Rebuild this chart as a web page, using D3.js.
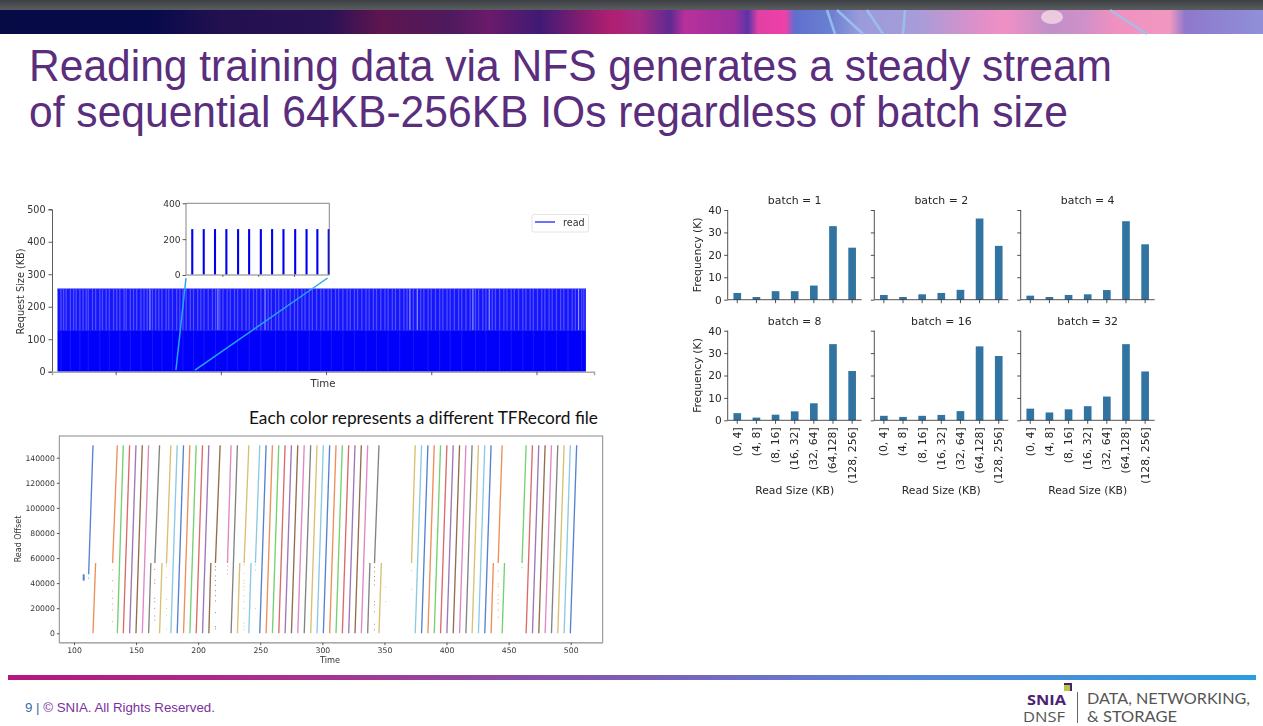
<!DOCTYPE html>
<html><head><meta charset="utf-8">
<script src="https://cdnjs.cloudflare.com/ajax/libs/d3/7.8.5/d3.min.js"></script>
<style>
html,body{margin:0;padding:0;background:#fff;overflow:hidden}
svg{display:block}
text{font-family:"DejaVu Sans",sans-serif}
.soft{filter:blur(.35px)}
</style></head><body><svg id="s" width="1263" height="726"></svg>
<script>
// ---- text
const titleLines = ["Reading training data via NFS generates a steady stream","of sequential 64KB-256KB IOs regardless of batch size"];
const caption = "Each color represents a different TFRecord file";
const footerNote = ["9 | ","© SNIA. All Rights Reserved."];

// ---- request-size timeline
const requestTicks = [0,100,200,300,400,500];
const timeTicks = [100,200,300,400,500];
const traceStart = 44.7, traceEnd = 547;
const levelSizes = [128,256];
const faintGaps = [48,50.5,53,57,60,62.5,66,69,72,74,78,81,85,87.5,91,94,98,101,104,108,110,114,117,120,124,127,130,135,138,141,144,148,150.5,154,158,161,164,167,171,174,178,181,184,188,192,195,199,202,206,209,213,216,220,224,227,231,234,238,245,248,252,255,259,262,266,270,273,277,280,284,287,291,295,298,302,305,309,312,316,320,323,327,330,334,338,341,345,348,352,356,359,363,366,370,374,377,383,390,393,397,400,404,408,411,415,418,422,426,429,433,437,442,445,449,452,458,461,465,469,472,476,479,483,487,490,494,497,501,505,508,512,515,519,523,526,530,534,537,543,545];
const brightGaps = [132.6,197.2,242,379.7,386.7,439.6,455.1,540.1];
const zoomWindow = [157.3,175.4];

// ---- zoomed inset
const insetTicks = [0,200,400];
const insetMarks = [3.2,6.35,9.5];
const insetSpikes = [0.55,1.56,2.55,3.55,4.58,5.55,6.58,7.57,8.57,9.6,10.6,11.55,12.55];
const insetSpikeSize = 256;
const seriesName = "read";

// ---- read offset by file: offset 0 at fileStart; paused files stop at fileBreak and continue from fileResume
const offsetTicks = [0,20000,40000,60000,80000,100000,120000,140000];
const scatterTicks = [100,150,200,250,300,350,400,450,500];
const fileEnd   = [115.3,134.9,139.7,144.8,149.9,155,160.1,168.9,178,183.1,188.2,193.3,198.4,203.5,208.6,217.7,226.5,231.6,240.8,249.6,254.7,259.8,264.9,270,275.1,280.2,285.4,290.6,295.7,300.8,305.9,311,316.1,321.2,326.3,331.4,336.5,345.6,374.8,379.9,385,390.1,395.2,400.3,405.4,410.5,415.6,420.6,425.7,430.8,435.9,444.8,464.1,469.2,474.3,479.4,484.5,489.6,494.7,499.7,504.8];
const fileStart = [null,115.3,134.9,139.7,144.8,149.9,155,160.1,168.9,178,183.1,188.2,193.3,198.4,203.5,208.6,null,226.5,231.6,240.8,249.6,254.7,259.8,264.9,270,275.1,280.2,285.4,290.6,295.7,300.8,305.9,311,316.1,321.2,326.3,331.4,336.5,345.6,374.8,379.9,385,390.1,395.2,400.3,405.4,410.5,415.6,420.6,425.7,430.8,435.9,444.8,464.1,469.2,474.3,479.4,484.5,489.6,494.7,499.7];
const pausedFiles  = [1,7,8,15,18,19,37,38,51,52];
const pausedBreak  = [117.4,161.9,170.9,210.2,233.5,242.6,338.3,347.5,437.7,446.7];
const pausedResume = [131.1,165.1,174.5,213.9,237,246.1,342,371.8,441.6,460.8];
const pauseOffset = 56000, fileSize = 150000;
const firstFile = {resume:111.8, offset:47000, blobTime:107.8, blobLow:42000, blobHigh:47000};
const pinkFile = {index:16, resume:223.6};
const dotFile   = [1,1,1,1,1,1,1, 7,7,7,7,7,7,7,7, 8,8,8,8,8,8,8, 15,15,15,15,15,15,15,15,15,15,15, 16,16,16, 18,18,18,18,18,18,18,18,18,18,18,18, 19,19,19, 37,37,37,37,37,37,37,37,37,37, 38,38, 38,38, 51,51,51,51,51,51,51,51, 52, 0];
const dotTime   = [131.1,131.1,131.1,131.1,131.1,131.1,131.1, 165,165,165,165,165,165,165,165, 174.5,174.5,174.5,174.5,174.5,174.5,174.5, 213.9,213.9,213.9,213.9,213.9,213.9,213.9,213.9,213.9,213.9,213.9, 223.6,223.6,223.6, 237,237,237,237,237,237,237,237,237,237,237,237, 246.1,246.1,246.1, 342,342,342,342,342,342,342,342,342,342, 351,351, 371.8,371.8, 441.6,441.6,441.6,441.6,441.6,441.6,441.6,441.6, 460.8, 111.8];
const dotOffset = [50500,42000,33700,27900,23400,18600,9300, 51000,42500,39900,27900,25200,19900,13800,10600, 55300,53100,44600,27100,19900,14600,3200, 53100,50500,45700,42000,38300,34000,30000,25800,16500,5300,3500, 53700,50500,47300, 54500,47800,42000,39900,37200,34500,30000,25200,19900,8000,5300,2700, 54500,50500,19900, 52600,49100,45200,42000,38500,25200,22600,17300,7200,2700, 36700,25200, 50000,35000, 49700,39300,37200,30500,27100,23900,18600,12800, 52300, 44000];
const fileColors = ["#4878d0","#ee854a","#6acc64","#d65f5f","#956cb4","#8c613c","#dc7ec0","#797979","#d5bb67","#82c6e2"];

// ---- read size histograms (K)
const sizeBins = ["(0, 4]","(4, 8]","(8, 16]","(16, 32]","(32, 64]","(64,128]","(128, 256]"];
const batchNames = ["batch = 1","batch = 2","batch = 4","batch = 8","batch = 16","batch = 32"];
const batch1  = [3,1.2,3.8,3.8,6.3,32.8,23.2];
const batch2  = [2.1,1.2,2.4,3,4.4,36.2,24];
const batch4  = [1.8,1.2,2.1,2.4,4.3,35,24.7];
const batch8  = [3.2,1.2,2.5,4,7.6,34,22];
const batch16 = [2,1.5,2,2.4,4.1,33,28.7];
const batch32 = [5.2,3.5,4.9,6.3,10.6,34,21.8];
const freqTicks = [0,10,20,30,40];

const svg = d3.select("#s");
const defs = svg.append("defs");
function grad(id, stops){
  const g = defs.append("linearGradient").attr("id",id).attr("gradientUnits","userSpaceOnUse").attr("x1",0).attr("x2",1263).attr("y1",0).attr("y2",0);
  stops.forEach(s=>g.append("stop").attr("offset",s[0]/1263).attr("stop-color",s[1]));
}
grad("ban",[[0,"#060a45"],[150,"#070a4a"],[220,"#22104f"],[330,"#2a1255"],[380,"#5e154f"],[450,"#4e1a5e"],[490,"#6a1a6a"],[540,"#3f1a75"],[610,"#b01f70"],[640,"#a52a85"],[670,"#5f2a90"],[685,"#b8309c"],[735,"#9c2f9e"],[748,"#5a35a8"],[758,"#e040a5"],[785,"#f03fa8"],[795,"#5f6fd0"],[830,"#6a80d0"],[860,"#9a9bdc"],[920,"#a89cd8"],[980,"#e08fc8"],[1005,"#f090c5"],[1050,"#c090c8"],[1085,"#d090c8"],[1115,"#f090c0"],[1170,"#f098c0"],[1185,"#8f78cc"],[1263,"#8f90d8"]]);
grad("foot",[[8,"#b5177f"],[300,"#a8308f"],[620,"#7f5bb5"],[900,"#5a86d8"],[1256,"#2d9ce0"]]);
const dk = defs.append("linearGradient").attr("id","chromeTop").attr("x1",0).attr("x2",0).attr("y1",0).attr("y2",1);
dk.append("stop").attr("offset",0).attr("stop-color","#3d4143");
dk.append("stop").attr("offset",1).attr("stop-color","#595d5f");

// ---- slide chrome
svg.append("rect").attr("width",1263).attr("height",10).attr("fill","url(#chromeTop)");
svg.append("rect").attr("y",10).attr("width",1263).attr("height",24).attr("fill","url(#ban)");
[[827,10,835,34],[837,10,863,34],[867,10,883,34],[905,10,903,34],[1110,10,1147,34]].forEach(l=>
  svg.append("line").attr("x1",l[0]).attr("y1",l[1]).attr("x2",l[2]).attr("y2",l[3]).attr("stroke","#9cc4f0").attr("stroke-width",2.5).attr("opacity",.85));
svg.append("ellipse").attr("cx",1052).attr("cy",17).attr("rx",11).attr("ry",7).attr("fill","#f4d4e4").attr("opacity",.85);

titleLines.forEach((t,i)=>svg.append("text").text(t).attr("x",29).attr("y",[81,127][i])
  .attr("textLength",[1083,1039][i]).attr("lengthAdjust","spacingAndGlyphs")
  .style("font-family","'Liberation Sans'").style("font-size","43.5px").attr("fill","#5a2d7d"));

svg.append("text").text(caption).attr("x",249).attr("y",424).attr("textLength",349).attr("lengthAdjust","spacingAndGlyphs")
  .style("font-family","Lato").style("font-size","17px").attr("fill","#111");

svg.append("rect").attr("x",8).attr("y",675).attr("width",1248).attr("height",5).attr("fill","url(#foot)");
const ft = svg.append("text").attr("x",25).attr("y",712).style("font-family","'Liberation Sans'").style("font-size","13.3px");
ft.append("tspan").text(footerNote[0]).attr("fill","#3a6ea5");
ft.append("tspan").text(footerNote[1]).attr("fill","#7a2fa0");

const lg = svg.append("g");
lg.append("text").text("SNIA").attr("x",1027).attr("y",705).attr("textLength",39).attr("lengthAdjust","spacingAndGlyphs").style("font-family","'Open Sans'").style("font-weight",700).style("font-size","14.5px").attr("fill","#4b1f73");
lg.append("text").text("DNSF").attr("x",1023).attr("y",721.5).attr("textLength",42).attr("lengthAdjust","spacingAndGlyphs").style("font-family","'Open Sans'").style("font-size","14.5px").attr("fill","#555");
lg.append("text").text("DATA, NETWORKING,").attr("x",1087).attr("y",704).attr("textLength",163).attr("lengthAdjust","spacingAndGlyphs").style("font-family","Lato").style("font-size","16px").attr("fill","#555");
lg.append("text").text("& STORAGE").attr("x",1087).attr("y",722).attr("textLength",90).attr("lengthAdjust","spacingAndGlyphs").style("font-family","Lato").style("font-size","16px").attr("fill","#555");
lg.append("line").attr("x1",1077.5).attr("x2",1077.5).attr("y1",692).attr("y2",723).attr("stroke","#666").attr("stroke-width",1);
lg.append("rect").attr("x",1064).attr("y",683).attr("width",8).attr("height",8).attr("fill","#4b1f73");
lg.append("rect").attr("x",1064).attr("y",685).attr("width",6).attr("height",6).attr("fill","#b5c83a");

// ---- helper
const ink = "#333";
function styleAxis(g, fs, col){
  g.selectAll("text").style("font-size",fs+"px").attr("fill",col);
  g.selectAll("line").attr("stroke",col).attr("stroke-width",.8);
}

// ---- timeline
const tl = svg.append("g").attr("class","soft");
const tx = d3.scaleLinear().domain([39.5,554.7]).range([52,594]);
const ty = d3.scaleLinear().domain([0,500]).range([371.7,209.3]);
tl.append("rect").attr("x",tx(traceStart)).attr("width",tx(traceEnd)-tx(traceStart)).attr("y",ty(levelSizes[0])).attr("height",ty(0)-ty(levelSizes[0])).attr("fill","#0000fb");
tl.append("rect").attr("x",tx(traceStart)).attr("width",tx(traceEnd)-tx(traceStart)).attr("y",ty(levelSizes[1])).attr("height",ty(levelSizes[0])-ty(levelSizes[1])).attr("fill","#1616fb");
tl.selectAll(".fa").data(faintGaps).join("line").attr("class","fa").attr("x1",d=>tx(d)).attr("x2",d=>tx(d)).attr("y1",ty(levelSizes[1])).attr("y2",ty(levelSizes[0])).attr("stroke","#4e4eff").attr("stroke-width",1.3);
tl.selectAll(".fb").data(faintGaps.filter((d,i)=>i%3==0)).join("line").attr("class","fb").attr("x1",d=>tx(d)).attr("x2",d=>tx(d)).attr("y1",ty(levelSizes[0])).attr("y2",ty(0)).attr("stroke","#1e1eff").attr("stroke-width",.8);
tl.selectAll(".br").data(brightGaps).join("line").attr("class","br").attr("x1",d=>tx(d)).attr("x2",d=>tx(d)).attr("y1",ty(levelSizes[1])).attr("y2",ty(levelSizes[0])).attr("stroke","#a8a8ff").attr("stroke-width",1);
tl.append("line").attr("x1",tx(traceStart)).attr("x2",tx(traceEnd)).attr("y1",ty(levelSizes[1])).attr("y2",ty(levelSizes[1])).attr("stroke","#9090ff").attr("stroke-width",1);

const ay = tl.append("g").attr("transform","translate(52,0)").call(d3.axisLeft(ty).tickValues(requestTicks).tickSize(3.5).tickPadding(3));
ay.select(".domain").attr("stroke",ink).attr("stroke-width",.8);
styleAxis(ay,9.6,ink);
const ax = tl.append("g").attr("transform","translate(0,371.7)").call(d3.axisBottom(tx).tickValues(timeTicks).tickSize(3.5).tickFormat(""));
ax.select(".domain").attr("stroke","#aaa").attr("stroke-width",1.6);
ax.selectAll("line").attr("stroke",ink).attr("stroke-width",.8);
tl.append("text").text("Time").attr("x",323).attr("y",387).attr("text-anchor","middle").style("font-size","10.2px").attr("fill",ink);
tl.append("text").text("Request Size (KB)").attr("transform","translate(24,291.5) rotate(-90)").attr("text-anchor","middle").style("font-size","9.7px").attr("fill",ink);

// legend
tl.append("rect").attr("x",532).attr("y",214.5).attr("width",56.5).attr("height",17.5).attr("rx",2).attr("fill","#fff").attr("stroke","#ddd").attr("stroke-width",.8);
tl.append("line").attr("x1",535).attr("x2",555).attr("y1",222).attr("y2",222).attr("stroke","#2020ff").attr("stroke-width",1.3);
tl.append("text").text(seriesName).attr("x",563).attr("y",225.5).style("font-size","9.6px").attr("fill",ink);

// inset
const ix = d3.scaleLinear().domain([0,12.6]).range([186,329.3]);
const iy = d3.scaleLinear().domain([0,400]).range([275,203.3]);
const inset = tl.append("g");
inset.append("rect").attr("x",186).attr("y",203.3).attr("width",143.3).attr("height",71.7).attr("fill","#fff");
inset.selectAll(".sp").data(insetSpikes).join("line").attr("class","sp").attr("x1",d=>ix(d)).attr("x2",d=>ix(d)).attr("y1",iy(0)).attr("y2",iy(insetSpikeSize)).attr("stroke","#0000f0").attr("stroke-width",2.1);
inset.append("path").attr("d","M186,275V203.3H329.3V275").attr("fill","none").attr("stroke","#777").attr("stroke-width",.9);
inset.append("line").attr("x1",186).attr("x2",329.3).attr("y1",275).attr("y2",275).attr("stroke","#aaa").attr("stroke-width",1.6);
const iay = inset.append("g").attr("transform","translate(186,0)").call(d3.axisLeft(iy).tickValues(insetTicks).tickSize(3.5).tickPadding(2));
iay.select(".domain").remove(); styleAxis(iay,9.1,ink);
const iax = inset.append("g").attr("transform","translate(0,275)").call(d3.axisBottom(ix).tickValues(insetMarks).tickSize(2).tickFormat(""));
iax.select(".domain").remove(); iax.selectAll("line").attr("stroke",ink).attr("stroke-width",.7);
// zoom connectors
const connectorFoot = ty(5), connectorHead = 278;
[[zoomWindow[0],ix(0)],[zoomWindow[1],ix(12.45)]].forEach(c=>
  tl.append("line").attr("x1",tx(c[0])).attr("y1",connectorFoot).attr("x2",c[1]).attr("y2",connectorHead).attr("stroke","#26a6f0").attr("stroke-width",1.5));

// ---- read offset scatter
const sc = svg.append("g").attr("class","soft");
const sx = d3.scaleLinear().domain([100,500]).range([74,570.7]);
const sy = d3.scaleLinear().domain([0,140000]).range([633.3,457.7]);
const segs = [];
const w = 1.35;
fileEnd.forEach((e,i)=>{
  const c = fileColors[i%10];
  const p = pausedFiles.indexOf(i);
  if(i===0){ segs.push([firstFile.resume,firstFile.offset,e,fileSize,c,w]); segs.push([firstFile.blobTime,firstFile.blobLow,firstFile.blobTime,firstFile.blobHigh,c,2]); return; }
  if(i===pinkFile.index){ segs.push([pinkFile.resume,pauseOffset,e,fileSize,c,w]); return; }
  if(p>=0){ segs.push([fileStart[i],0,pausedBreak[p],pauseOffset,c,w]); segs.push([pausedResume[p],pauseOffset,e,fileSize,c,w]); }
  else segs.push([fileStart[i],0,e,fileSize,c,w]);
});
sc.selectAll(".seg").data(segs).join("line").attr("class","seg").attr("x1",d=>sx(d[0])).attr("y1",d=>sy(d[1])).attr("x2",d=>sx(d[2])).attr("y2",d=>sy(d[3])).attr("stroke",d=>d[4]).attr("stroke-width",d=>d[5]).attr("opacity",.92);
sc.selectAll(".dot").data(dotTime).join("rect").attr("class","dot").attr("x",d=>sx(d)-.5).attr("y",(d,i)=>sy(dotOffset[i])-.5).attr("width",1).attr("height",1).attr("fill",(d,i)=>fileColors[dotFile[i]%10]).attr("opacity",.8);
sc.append("rect").attr("x",59.3).attr("y",436).attr("width",543.4).attr("height",206.7).attr("fill","none").attr("stroke","#8a8a8a").attr("stroke-width",1);
sc.append("line").attr("x1",59.3).attr("x2",602.7).attr("y1",642.7).attr("y2",642.7).attr("stroke","#aaa").attr("stroke-width",1.5);
const say = sc.append("g").attr("transform","translate(59.3,0)").call(d3.axisLeft(sy).tickValues(offsetTicks).tickSize(2.5).tickPadding(2).tickFormat(d3.format("d")));
say.select(".domain").remove(); styleAxis(say,7.7,ink);
const sax = sc.append("g").attr("transform","translate(0,642.7)").call(d3.axisBottom(sx).tickValues(scatterTicks).tickSize(2.5).tickPadding(2));
sax.select(".domain").remove(); styleAxis(sax,7.7,ink);
sc.append("text").text("Time").attr("x",330).attr("y",662.5).attr("text-anchor","middle").style("font-size","8.2px").attr("fill",ink);
sc.append("text").text("Read Offset").attr("transform","translate(21,539) rotate(-90)").attr("text-anchor","middle").style("font-size","8px").attr("fill",ink);

// ---- histograms
const batchSeries = [batch1,batch2,batch4,batch8,batch16,batch32];
const dark = "#262626";
batchSeries.forEach((vals,i)=>{
  const col = i%3, row = Math.floor(i/3);
  const x0 = [727.7,874.3,1020.7][col];
  const yTop = [210,330.7][row], yBase = [299.7,420.3][row];
  const g = svg.append("g").attr("class","soft");
  const bx = d3.scaleBand().domain(sizeBins).range([x0,x0+134]).paddingInner(.6).paddingOuter(.3);
  const by = d3.scaleLinear().domain([0,40]).range([yBase,yTop]);
  g.selectAll("rect").data(vals).join("rect").attr("x",(d,j)=>bx(sizeBins[j])).attr("width",bx.bandwidth()).attr("y",d=>by(d)).attr("height",d=>by(0)-by(d)).attr("fill","#3274a1");
  const ya = g.append("g").attr("transform",`translate(${x0},0)`).call(d3.axisLeft(by).tickValues(freqTicks).tickSize(3.5).tickPadding(2.5).tickFormat(col===0?d3.format("d"):""));
  ya.select(".domain").attr("stroke",dark).attr("stroke-width",.8).attr("d",`M0,${yTop}V${yBase}`);
  styleAxis(ya,10.5,dark);
  const xa = g.append("g").attr("transform",`translate(0,${yBase})`).call(d3.axisBottom(bx).tickSize(3.5).tickPadding(3).tickFormat(row===1?(d=>d):""));
  xa.select(".domain").attr("stroke",dark).attr("stroke-width",.8).attr("d",`M${x0},0H${x0+134}`);
  styleAxis(xa,10.8,dark);
  if(row===1){
    xa.selectAll("text").attr("transform","rotate(-90)").attr("text-anchor","end").attr("dy",".32em").attr("x",-7).attr("y",0);
    g.append("text").text("Read Size (KB)").attr("x",x0+67).attr("y",494).attr("text-anchor","middle").style("font-size","10.8px").attr("fill",dark);
  }
  if(col===0) g.append("text").text("Frequency (K)").attr("transform",`translate(701,${(yTop+yBase)/2}) rotate(-90)`).attr("text-anchor","middle").style("font-size","10.8px").attr("fill",dark);
  g.append("text").text(batchNames[i]).attr("x",x0+67).attr("y",yTop-6).attr("text-anchor","middle").style("font-size","10.9px").attr("fill",dark);
});
</script></body></html>
